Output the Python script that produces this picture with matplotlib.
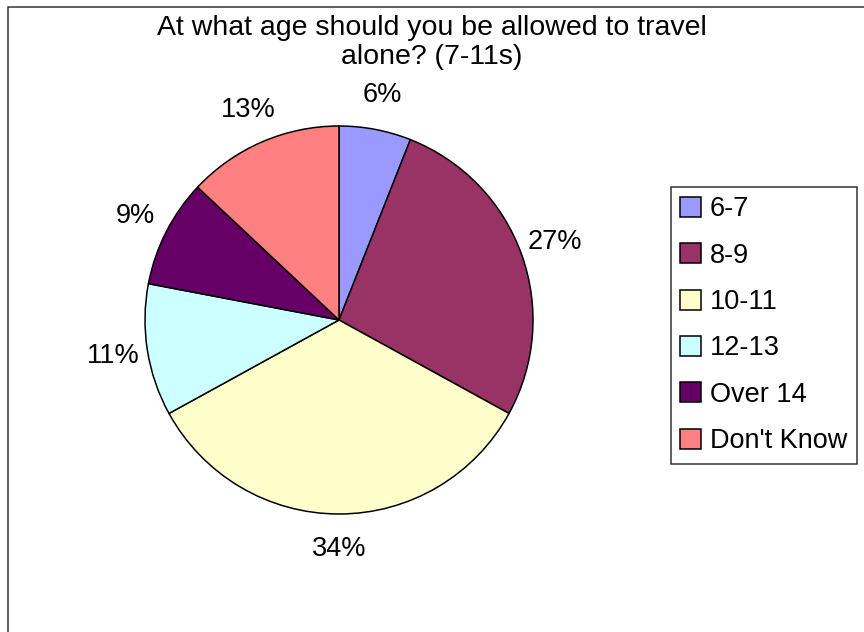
import matplotlib.pyplot as plt
from matplotlib.patches import Rectangle

plt.rcParams['font.family'] = ['Liberation Sans', 'DejaVu Sans']

# Data
categories = ["6-7", "8-9", "10-11", "12-13", "Over 14", "Don't Know"]
percentages = [6, 27, 34, 11, 9, 13]
colors = ["#9999FF", "#993366", "#FFFFCC", "#CCFFFF", "#660066", "#FF8080"]
title = "At what age should you be allowed to travel\nalone? (7-11s)"

W, H = 864, 632
fig = plt.figure(figsize=(W / 100, H / 100), dpi=100)
ax = fig.add_axes([0, 0, 1, 1])

wedges, texts, autotexts = ax.pie(
    percentages,
    colors=colors,
    center=(339, H - 320),
    radius=194,
    startangle=90,
    counterclock=False,
    autopct=lambda p: f"{round(p)}%",
    pctdistance=1.18,
    wedgeprops=dict(edgecolor="black", linewidth=1.1),
    textprops=dict(fontsize=19.5, color="black"),
)

ax.set_xlim(0, W)
ax.set_ylim(0, H)
ax.set_aspect("equal")
ax.axis("off")

# Title
fig.text(432 / W, 1 - 15 / H, title, ha="center", va="top",
         fontsize=20.5, linespacing=1.17, multialignment="center")

# Legend
leg = fig.legend(wedges, categories, loc="upper left",
                 bbox_to_anchor=(671 / W, 1 - 187 / H),
                 fontsize=19.5, frameon=True, fancybox=False,
                 edgecolor="black", borderaxespad=0, borderpad=0.35,
                 labelspacing=0.75, handlelength=0.75, handleheight=0.75,
                 handletextpad=0.33)
leg.get_frame().set_linewidth(1.1)

# Outer chart border
fig.patches.append(Rectangle((8 / W, -0.1), 2, 1.1 - 7 / H,
                             transform=fig.transFigure, fill=False,
                             edgecolor="#333333", linewidth=1.1))

plt.savefig("out.png", dpi=100)
